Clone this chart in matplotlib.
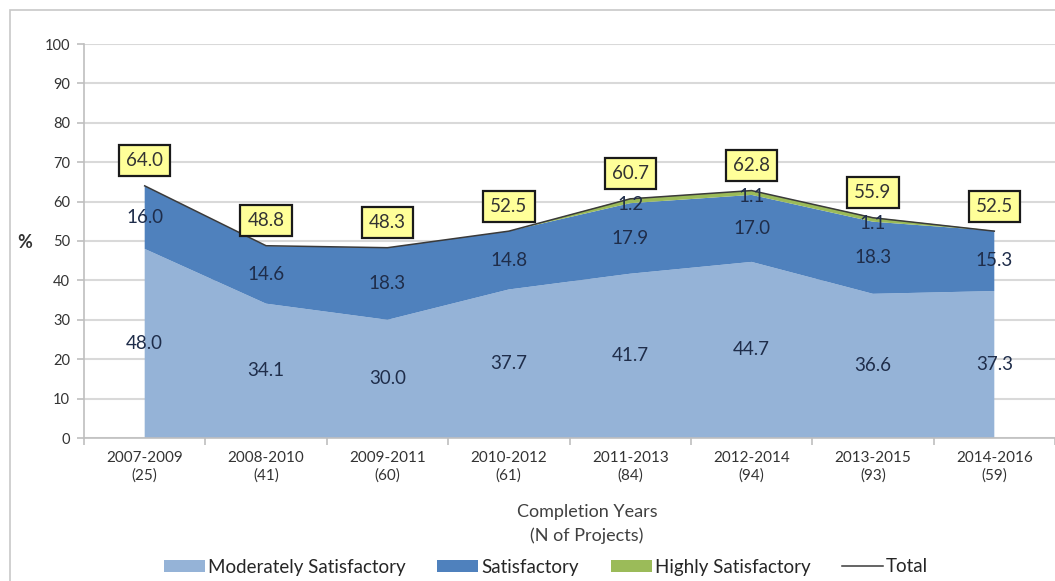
import matplotlib
matplotlib.use("Agg")
import matplotlib.pyplot as plt
from matplotlib.patches import Rectangle, Patch
from matplotlib.lines import Line2D
import numpy as np

plt.rcParams['font.family'] = ['Lato', 'DejaVu Sans']

categories = ["2007-2009\n(25)", "2008-2010\n(41)", "2009-2011\n(60)", "2010-2012\n(61)",
              "2011-2013\n(84)", "2012-2014\n(94)", "2013-2015\n(93)", "2014-2016\n(59)"]
moderately = [48.0, 34.1, 30.0, 37.7, 41.7, 44.7, 36.6, 37.3]
satisfactory = [16.0, 14.6, 18.3, 14.8, 17.9, 17.0, 18.3, 15.3]
highly = [0.0, 0.0, 0.0, 0.0, 1.2, 1.1, 1.1, 0.0]
total = [64.0, 48.8, 48.3, 52.5, 60.7, 62.8, 55.9, 52.5]

c_ms = "#95B3D7"
c_s = "#4F81BD"
c_hs = "#9BBB59"
c_tot = "#3A3A3A"
lab_col = "#1F2D4A"

W, H = 1055, 581
fig = plt.figure(figsize=(W / 100, H / 100), dpi=100)

# outer frame
fig.patches.append(Rectangle((10 / W, -0.1), 1.2, 1 - 10 / H + 0.1, transform=fig.transFigure,
                             fill=False, edgecolor="#C8C8C8", linewidth=1.2, zorder=0))

ax = fig.add_axes([84 / W, 1 - 438 / H, 1 - 84 / W, (438 - 44) / H])
x = np.arange(len(categories))
ms = np.array(moderately)
s = np.array(satisfactory)
hs = np.array(highly)

ax.stackplot(x, ms, s, hs, colors=[c_ms, c_s, c_hs], linewidth=0, zorder=2)
ax.plot(x, total, color=c_tot, linewidth=1.1, zorder=3)

ax.set_xlim(-0.5, -0.5 + (W - 84) / 122.6)
ax.set_ylim(0, 100)
ax.set_yticks(np.arange(0, 101, 10))
ax.yaxis.grid(True, color="#D9D9D9", linewidth=1.5, zorder=0)
ax.set_axisbelow(True)
ax.set_xticks(x)
ax.set_xticklabels(categories, fontsize=11, color="#333333", linespacing=1.35)
ax.set_xticks(np.arange(-0.5, 8.0, 1.0), minor=True)
ax.tick_params(axis='x', which='major', length=0, pad=9)
ax.tick_params(axis='x', which='minor', length=5, color="#BFBFBF", width=1.2)
ax.tick_params(axis='y', length=5, color="#BFBFBF", width=1.2, labelsize=10.5, labelcolor="#333333", pad=5)
for side in ["top", "right"]:
    ax.spines[side].set_visible(False)
for side in ["left", "bottom"]:
    ax.spines[side].set_color("#BFBFBF")
    ax.spines[side].set_linewidth(1.2)

# segment labels
for i in range(len(x)):
    ax.text(x[i], ms[i] / 2, f"{ms[i]:.1f}", ha="center", va="center", fontsize=13.5, color=lab_col, zorder=4)
    ax.text(x[i], ms[i] + s[i] / 2, f"{s[i]:.1f}", ha="center", va="center", fontsize=13.5, color=lab_col, zorder=4)
    if hs[i] > 0:
        ax.text(x[i], ms[i] + s[i] + hs[i] / 2 - 1.0, f"{hs[i]:.1f}", ha="center", va="center",
                fontsize=13.5, color=lab_col, zorder=4)
    ax.annotate(f"{total[i]:.1f}", (x[i], total[i]), xytext=(0, 18), textcoords="offset points",
                ha="center", va="center", fontsize=13.5, color="#333333", zorder=5,
                bbox=dict(boxstyle="square,pad=0.38", facecolor="#FFFF99", edgecolor="#1A1A1A", linewidth=1.6))

fig.text(25 / W, 1 - 243 / H, "%", ha="center", va="center", fontsize=13, fontweight="bold", color="#333333")
fig.text(587 / W, 1 - 512 / H, "Completion Years", ha="center", va="center", fontsize=13, color="#404040")
fig.text(587 / W, 1 - 536 / H, "(N of Projects)", ha="center", va="center", fontsize=13, color="#404040")

handles = [Patch(facecolor=c_ms, edgecolor="none"), Patch(facecolor=c_s, edgecolor="none"),
           Patch(facecolor=c_hs, edgecolor="none"), Line2D([0], [0], color=c_tot, linewidth=1.1)]
labels = ["Moderately Satisfactory", "Satisfactory", "Highly Satisfactory", "Total"]
fig.legend(handles, labels, loc="center", bbox_to_anchor=(546 / W, 1 - 567 / H), ncol=4, frameon=False,
           fontsize=13.5, handlelength=2.2, handleheight=0.55, handletextpad=0.15, columnspacing=1.7,
           labelcolor="#262626")

fig.savefig("out.png", dpi=100)
